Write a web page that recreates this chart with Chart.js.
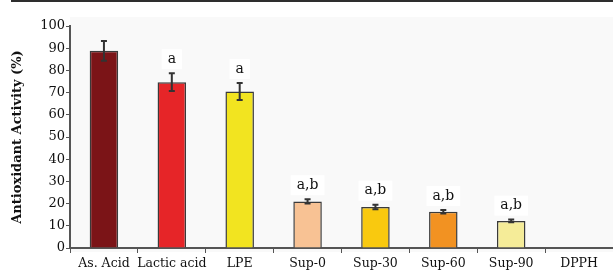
<!DOCTYPE html>
<html lang="en">
  <head>
    <meta charset="UTF-8" />
    <title>Antioxidant Activity</title>
    <script src="https://cdn.jsdelivr.net/npm/chart.js"></script>
    <style>
      body {
        margin: 0;
        background: #ffffff;
      }
      .wrap {
        position: relative;
        width: 613px;
        height: 277px;
      }
      .rule {
        position: absolute;
        left: 11px;
        right: 0;
        top: 0;
        height: 2px;
        background: #2e2e2e;
      }
    </style>
  </head>
  <body>
    <div class="wrap">
      <div class="rule"></div>
      <canvas id="activityChart" width="613" height="277"></canvas>
    </div>

    <script>
      // values
      const categories = ["As. Acid", "Lactic acid", "LPE", "Sup-0", "Sup-30", "Sup-60", "Sup-90", "DPPH"];
      const activity = [88.8, 74.7, 70.5, 21, 18.5, 16.3, 12.2, 0];
      const errors = [4.4, 4, 3.8, 1, 1, 0.8, 0.6, 0];
      const letters = ["", "a", "a", "a,b", "a,b", "a,b", "a,b", ""];
      const barColors = ["#7b1417", "#e62528", "#f2e420", "#f8c294", "#f9c90f", "#f29222", "#f5ec98", "#ffffff"];
      const yTicks = [0, 10, 20, 30, 40, 50, 60, 70, 80, 90, 100];

      const serif = "'DejaVu Serif', serif";

      // faint plot background
      const backdrop = {
        id: "backdrop",
        beforeDraw(chart) {
          const { ctx, chartArea } = chart;
          ctx.save();
          ctx.fillStyle = "#f9f9f9";
          ctx.fillRect(chartArea.left, 17, chartArea.right - chartArea.left, chartArea.bottom - 17 + 4);
          ctx.restore();
        },
      };

      // error bars and significance letters
      const extras = {
        id: "extras",
        afterDatasetsDraw(chart) {
          const { ctx } = chart;
          const x = chart.scales.x;
          const y = chart.scales.y;
          ctx.save();
          activity.forEach((v, i) => {
            if (v === 0) return;
            const cx = x.getPixelForValue(i);
            const top = y.getPixelForValue(v + errors[i]);
            const bot = y.getPixelForValue(v - errors[i]);
            ctx.strokeStyle = "#333333";
            ctx.lineWidth = 2;
            ctx.beginPath();
            ctx.moveTo(cx, top);
            ctx.lineTo(cx, bot);
            ctx.moveTo(cx - 3, top);
            ctx.lineTo(cx + 3, top);
            ctx.moveTo(cx - 3, bot);
            ctx.lineTo(cx + 3, bot);
            ctx.stroke();

            if (letters[i]) {
              ctx.font = "14px " + serif;
              const w = ctx.measureText(letters[i]).width;
              const ly = top - 14;
              ctx.fillStyle = "#ffffff";
              ctx.fillRect(cx - w / 2 - 6, ly - 10, w + 12, 20);
              ctx.fillStyle = "#111111";
              ctx.textAlign = "center";
              ctx.textBaseline = "middle";
              ctx.fillText(letters[i], cx, ly);
            }
          });
          ctx.restore();
        },
      };

      new Chart(document.getElementById("activityChart"), {
        type: "bar",
        data: {
          labels: categories,
          datasets: [
            {
              label: "Antioxidant Activity (%)",
              data: activity,
              backgroundColor: barColors,
              borderColor: "#3a3a3a",
              borderWidth: 1.5,
              barPercentage: 0.42,
              categoryPercentage: 1,
            },
          ],
        },
        options: {
          responsive: false,
          animation: false,
          layout: {
            padding: { top: 26, right: 0, left: 0, bottom: 0 },
          },
          plugins: {
            legend: { display: false },
            tooltip: { enabled: false },
          },
          scales: {
            x: {
              grid: {
                drawOnChartArea: false,
                color: "#555555",
                tickLength: 5,
                offset: true,
              },
              border: { color: "#555555", width: 2 },
              ticks: {
                color: "#111111",
                font: { family: serif, size: 12.5 },
                padding: 3,
                maxRotation: 0,
                autoSkip: false,
              },
              afterFit(scale) {
                scale.height = 29;
              },
            },
            y: {
              min: 0,
              max: 100,
              afterBuildTicks(scale) {
                scale.ticks = yTicks.map((v) => ({ value: v }));
              },
              grid: {
                drawOnChartArea: false,
                color: "#555555",
                tickLength: 4,
              },
              border: { color: "#555555", width: 2 },
              ticks: {
                color: "#111111",
                font: { family: serif, size: 13 },
                padding: 1,
              },
              title: {
                display: true,
                text: "Antioxidant Activity (%)",
                color: "#111111",
                font: { family: serif, size: 13, weight: "bold" },
                padding: { top: 10, bottom: 0 },
              },
              afterFit(scale) {
                scale.width = 70;
              },
            },
          },
        },
        plugins: [backdrop, extras],
      });
    </script>
  </body>
</html>
